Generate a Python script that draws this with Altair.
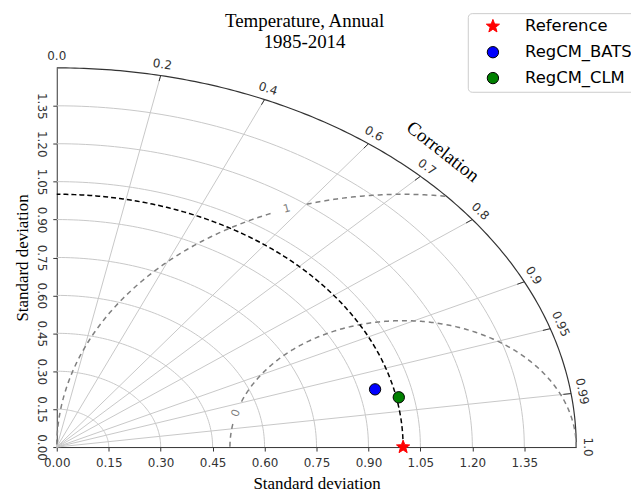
import altair as alt
import numpy as np
import pandas as pd

# ---------------- data ----------------
TITLE = ["Temperature, Annual", "1985-2014"]
models = ["Reference", "RegCM_BATS", "RegCM_CLM"]
model_std = [1.0, 0.947, 1.007]
model_corr = [1.0, 0.9705, 0.9807]
model_fill = ["red", "blue", "green"]
model_edge = ["red", "black", "black"]

std_ticks = [0.0, 0.15, 0.30, 0.45, 0.60, 0.75, 0.90, 1.05, 1.20, 1.35]
std_max = 1.5
ref_std = 1.0
corr_ticks = [0.0, 0.2, 0.4, 0.6, 0.7, 0.8, 0.9, 0.95, 0.99, 1.0]
corr_tick_text = ["0.0", "0.2", "0.4", "0.6", "0.7", "0.8", "0.9", "0.95", "0.99", "1.0"]
corr_grid = [0.2, 0.4, 0.6, 0.7, 0.8, 0.9, 0.95, 0.99]
rms_levels = [0.5, 1.0]
rms_text = ["0", "1"]
rms_label_phi = [164.5, 109.6]   # where the inline label sits on each contour (deg)
rms_gap = [5.0, 2.6]             # half-width of the gap around the label (deg)

# 5-pointed star as a custom symbol path (slightly larger than the unit circle symbol)
_pts = []
for k in range(10):
    ang = np.radians(-90 + 36 * k)
    r = 1.22 if k % 2 == 0 else 0.51
    _pts.append(f"{r * np.cos(ang):.4f},{r * np.sin(ang):.4f}")
STAR = "M" + " L".join(_pts) + " Z"
model_shape = [STAR, "circle", "circle"]

# ---------------- geometry helpers ----------------
W, H = 522, 381
sx, sy = W / std_max, H / std_max

xs = alt.Scale(domain=[0, std_max], nice=False, zero=True)
ys = alt.Scale(domain=[0, std_max], nice=False, zero=True)

xaxis = alt.Axis(values=std_ticks, format=".2f", title="Standard deviation",
                 titleFont="Liberation Serif", titleFontSize=17, titleFontWeight="normal",
                 titleColor="black", labelFont="DejaVu Sans", labelFontSize=12,
                 labelColor="#333333", tickColor="#333333", domainColor="#333333",
                 tickSize=4, labelPadding=7, grid=False, titlePadding=7,
                 labelFlush=False, labelOverlap=False)
yaxis = alt.Axis(values=std_ticks, format=".2f", title="Standard deviation",
                 titleFont="Liberation Serif", titleFontSize=17, titleFontWeight="normal",
                 titleColor="black", labelFont="DejaVu Sans", labelFontSize=12,
                 labelColor="#333333", tickColor="#333333", domainColor="#333333",
                 tickSize=4, labelPadding=6, grid=False, titlePadding=4,
                 labelAngle=90, labelAlign="center", labelBaseline="top",
                 labelFlush=False, labelOverlap=False)


def X():
    return alt.X("x:Q", scale=xs, axis=xaxis)


def Y():
    return alt.Y("y:Q", scale=ys, axis=yaxis)


def line_layer(xv, yv, **mk):
    df = pd.DataFrame(dict(i=np.arange(len(xv)), x=xv, y=yv))
    return alt.Chart(df).mark_line(**mk).encode(x=X(), y=Y(), order="i:Q")


layers = []

# std arcs (grid)
tt = np.radians(np.linspace(0, 90, 91))
for s in std_ticks[1:]:
    layers.append(line_layer(s * np.cos(tt), s * np.sin(tt), color="#c8c8c8", strokeWidth=1))

# radial correlation lines
for c in corr_grid:
    th = np.arccos(c)
    layers.append(line_layer([0.0, std_max * c], [0.0, std_max * np.sin(th)],
                             color="#c8c8c8", strokeWidth=1))

# tick marks at the outer arc
for c in corr_ticks[1:-1]:
    th = np.arccos(c)
    rr = np.array([std_max * 0.985, std_max])
    layers.append(line_layer(rr * c, rr * np.sin(th), color="#333333", strokeWidth=1))

# outer arc
to = np.radians(np.linspace(0, 90, 181))
layers.append(line_layer(std_max * np.cos(to), std_max * np.sin(to),
                         color="#333333", strokeWidth=1.2))

# RMS contours (with a gap for the inline label)
rms_lab_rows = []
for R, txt, phl, gap in zip(rms_levels, rms_text, rms_label_phi, rms_gap):
    segs = {0: ([], []), 1: ([], [])}
    for ph in np.arange(0, 180.01, 0.5):
        p = np.radians(ph)
        x, y = ref_std + R * np.cos(p), R * np.sin(p)
        if x * x + y * y > std_max ** 2 + 1e-9 or x < 0:
            continue
        if abs(ph - phl) < gap:
            continue
        k = 0 if ph < phl else 1
        segs[k][0].append(x)
        segs[k][1].append(y)
    for k in (0, 1):
        if len(segs[k][0]) > 1:
            layers.append(line_layer(segs[k][0], segs[k][1], color="#808080",
                                     strokeWidth=1.5, strokeDash=[5, 4]))
    p = np.radians(phl)
    dx, dy = -np.sin(p) * sx, np.cos(p) * sy
    up = np.degrees(np.arctan2(dy, dx))
    if up > 90:
        up -= 180
    if up < -90:
        up += 180
    rms_lab_rows.append(dict(x=ref_std + R * np.cos(p), y=R * np.sin(p), text=txt,
                             ang=float((-up) % 360)))
df_rms_lab = pd.DataFrame(rms_lab_rows)

# reference std arc
layers.append(line_layer(ref_std * np.cos(to), ref_std * np.sin(to),
                         color="black", strokeWidth=1.5, strokeDash=[5, 3]))

# correlation tick labels
lab_rows = []
a, b = std_max * sx, std_max * sy
for c, txt in zip(corr_ticks, corr_tick_text):
    th = np.arccos(c)
    px, py = a * np.cos(th), b * np.sin(th)
    nx, ny = np.cos(th) / a, np.sin(th) / b
    nn = np.hypot(nx, ny)
    off = 11.5
    px += off * nx / nn
    py += off * ny / nn
    ang = float(np.degrees(np.arctan2(b * np.cos(th), a * np.sin(th))))
    lab_rows.append(dict(x=px / sx, y=py / sy, text=txt, ang=ang))
df_lab = pd.DataFrame(lab_rows)

layers.append(alt.Chart(df_rms_lab).mark_text(font="DejaVu Sans", fontSize=11,
                                              color="#808080").encode(
    x=X(), y=Y(), text="text:N", angle=alt.Angle("ang:Q", scale=None)))
layers.append(alt.Chart(df_lab).mark_text(font="DejaVu Sans", fontSize=12,
                                          color="#333333").encode(
    x=X(), y=Y(), text="text:N", angle=alt.Angle("ang:Q", scale=None)))

df_corr_title = pd.DataFrame(dict(x=[1.115], y=[1.169], text=["Correlation"]))
layers.append(alt.Chart(df_corr_title).mark_text(
    font="Liberation Serif", fontSize=19, color="black", angle=38).encode(
    x=X(), y=Y(), text="text:N"))

# model points
df_pts = pd.DataFrame(dict(
    model=models,
    x=[s * c for s, c in zip(model_std, model_corr)],
    y=[s * np.sqrt(max(0.0, 1 - c * c)) for s, c in zip(model_std, model_corr)],
))
legend = alt.Legend(title=None, orient="none", legendX=413, legendY=-55,
                    strokeColor="#cccccc", fillColor="white", padding=5, cornerRadius=4,
                    labelFont="DejaVu Sans", labelFontSize=16.5, labelColor="black",
                    symbolSize=130, rowPadding=9, labelOffset=24, symbolOffset=12,
                    symbolStrokeWidth=1)
layers.append(alt.Chart(df_pts).mark_point(filled=True, size=130, strokeWidth=1,
                                           opacity=1).encode(
    x=X(), y=Y(),
    color=alt.Color("model:N", scale=alt.Scale(domain=models, range=model_fill), legend=legend),
    stroke=alt.Stroke("model:N", scale=alt.Scale(domain=models, range=model_edge), legend=legend),
    shape=alt.Shape("model:N", scale=alt.Scale(domain=models, range=model_shape), legend=legend),
))

chart = alt.layer(*layers).properties(
    width=W, height=H, autosize="none",
    padding={"left": 49, "top": 59, "right": 55, "bottom": 47},
    title=alt.TitleParams(TITLE, font="Liberation Serif", fontSize=19, fontWeight="normal",
                          color="black", anchor="middle", frame="group", dx=-12,
                          offset=-40, lineHeight=22),
).configure_view(stroke=None)

chart.save("out.html", embed_options={"renderer": "svg", "actions": False})
